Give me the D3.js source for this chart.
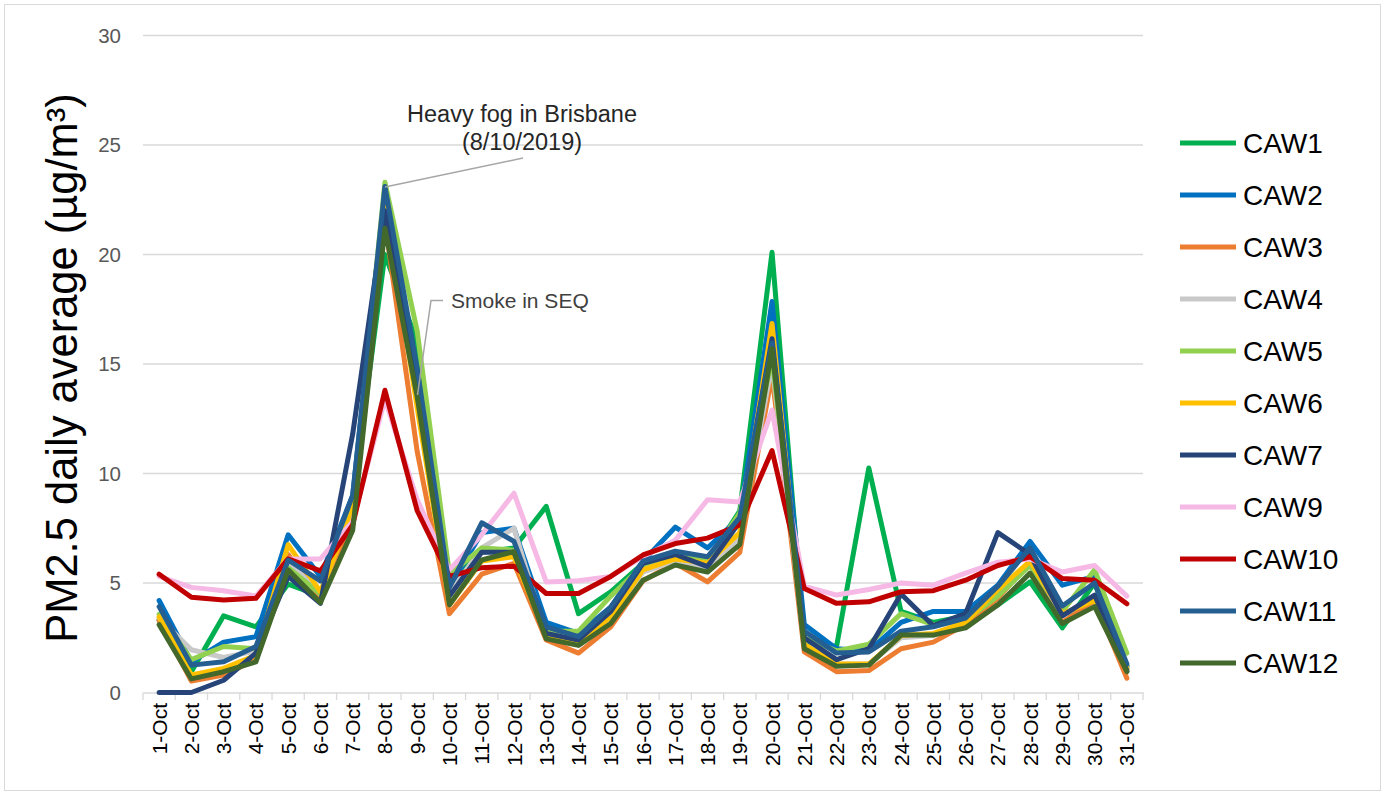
<!DOCTYPE html>
<html><head><meta charset="utf-8">
<script src="https://cdn.jsdelivr.net/npm/d3@7"></script>
<style>
html,body{margin:0;padding:0;background:#fff;}
svg{display:block;font-family:"Liberation Sans",Arial,sans-serif;}
</style></head>
<body>
<svg id="chart" width="1384" height="794"></svg>
<script>
const days = ["1-Oct","2-Oct","3-Oct","4-Oct","5-Oct","6-Oct","7-Oct","8-Oct","9-Oct","10-Oct","11-Oct","12-Oct","13-Oct","14-Oct","15-Oct","16-Oct","17-Oct","18-Oct","19-Oct","20-Oct","21-Oct","22-Oct","23-Oct","24-Oct","25-Oct","26-Oct","27-Oct","28-Oct","29-Oct","30-Oct","31-Oct"];
const yTicks = [0,5,10,15,20,25,30];
const seriesNames = ["CAW1","CAW2","CAW3","CAW4","CAW5","CAW6","CAW7","CAW9","CAW10","CAW11","CAW12"];
const seriesColors = ["#00B050","#0070C0","#ED7D31","#C9C9C9","#92D050","#FFC000","#264478","#F6B8E4","#C00000","#255E91","#43682B"];
const CAW1  = [3.3,0.95,3.5,3.0,4.95,4.4,8.8,20.0,16.0,5.2,6.4,6.6,8.5,3.6,4.6,5.9,6.2,6.0,8.3,20.1,2.3,2.1,10.25,3.7,3.2,3.5,4.0,5.05,2.95,5.0,1.2];
const CAW2  = [4.2,1.4,2.3,2.55,7.2,5.3,9.0,22.8,14.5,4.8,7.3,7.5,3.2,2.7,3.9,6.0,7.55,6.6,8.0,17.85,3.1,2.0,1.9,3.2,3.7,3.7,4.9,6.9,4.9,5.3,1.2];
const CAW3  = [3.3,0.52,0.8,1.5,6.3,4.3,8.0,21.5,11.0,3.6,5.4,5.9,2.4,1.8,3.0,5.1,5.9,5.05,6.4,14.5,1.85,0.95,1.0,2.0,2.3,3.1,4.3,6.0,3.2,4.2,0.65];
const CAW4  = [3.4,1.95,1.6,1.9,6.0,4.5,8.5,22.0,13.5,4.5,6.6,7.5,2.6,2.3,3.4,5.5,6.0,5.6,7.0,15.0,2.2,1.3,1.3,2.5,2.6,3.3,4.5,6.0,3.5,4.4,1.1];
const CAW5  = [3.57,1.5,2.1,2.0,5.7,4.5,8.7,23.3,16.5,5.4,6.6,6.5,2.8,2.8,4.4,5.8,6.3,6.0,8.2,15.3,2.5,1.9,2.2,3.6,3.1,3.3,4.4,5.8,3.7,5.6,1.8];
const CAW6  = [3.45,0.8,1.1,1.7,6.75,4.6,8.3,22.5,13.0,4.0,6.0,6.2,2.6,2.3,3.45,5.6,6.1,5.9,7.3,16.85,2.2,1.3,1.3,2.6,2.7,3.2,4.7,6.0,3.6,4.2,1.1];
const CAW7  = [0.0,0.0,0.56,1.8,5.3,4.07,11.8,22.0,14.0,4.4,6.4,6.4,2.7,2.4,3.7,5.9,6.3,5.75,7.8,16.15,2.5,1.5,2.0,4.5,3.05,3.6,7.3,6.3,3.5,4.45,1.0];
const CAW9  = [5.3,4.8,4.65,4.4,6.1,6.1,7.8,13.4,8.8,5.6,7.2,9.1,5.05,5.1,5.3,6.2,6.95,8.8,8.7,12.9,4.85,4.45,4.7,5.0,4.9,5.45,5.95,6.1,5.5,5.8,4.4];
const CAW10 = [5.4,4.35,4.22,4.3,6.1,5.55,7.65,13.8,8.3,5.3,5.7,5.77,4.52,4.52,5.3,6.28,6.8,7.05,7.65,11.05,4.75,4.07,4.14,4.6,4.65,5.13,5.8,6.2,5.2,5.13,4.05];
const CAW11 = [3.92,1.25,1.4,2.1,6.05,5.1,9.0,23.1,14.8,4.8,7.75,6.9,3.0,2.55,3.9,6.0,6.45,6.2,8.0,15.95,2.8,1.8,1.85,2.8,3.0,3.4,4.85,6.6,3.95,5.0,1.3];
const CAW12 = [3.1,0.62,0.95,1.4,5.6,4.1,7.4,21.2,13.5,4.0,6.05,6.43,2.45,2.15,3.15,5.13,5.82,5.5,6.75,15.7,2.0,1.2,1.25,2.62,2.62,2.95,4.0,5.45,3.15,3.92,0.95];
const seriesValues = [CAW1,CAW2,CAW3,CAW4,CAW5,CAW6,CAW7,CAW9,CAW10,CAW11,CAW12];

const svg = d3.select("#chart");
svg.append("rect").attr("x",4.5).attr("y",4.5).attr("width",1376).attr("height",786)
  .attr("fill","none").attr("stroke","#d9d9d9").attr("stroke-width",1);

const x = d3.scaleBand().domain(days).range([143,1143]).padding(0);
const y = d3.scaleLinear().domain([0,30]).range([692.5,35.5]);

svg.append("g").selectAll("line").data(yTicks.filter(d=>d>0)).join("line")
  .attr("x1",143).attr("x2",1143).attr("y1",d=>y(d)).attr("y2",d=>y(d))
  .attr("stroke","#d9d9d9").attr("stroke-width",1.3);

svg.append("g").selectAll("text").data(yTicks).join("text")
  .attr("x",121).attr("y",d=>y(d)).attr("dy","0.36em").attr("text-anchor","end")
  .attr("font-size",20.5).attr("fill","#595959").text(d=>d);

const xAxis = d3.axisBottom(x).tickSize(0).tickFormat("");
const gx = svg.append("g").attr("transform","translate(0,692.5)").call(xAxis);
gx.select(".domain").attr("stroke","#d9d9d9").attr("stroke-width",1.5);
const bounds = days.map(d=>x(d)).concat([x(days[days.length-1])+x.bandwidth()]);
svg.append("g").selectAll("line").data(bounds).join("line")
  .attr("x1",d=>d).attr("x2",d=>d).attr("y1",692.5).attr("y2",700)
  .attr("stroke","#d9d9d9").attr("stroke-width",1.3);
svg.append("g").selectAll("text").data(days).join("text")
  .attr("transform",d=>`translate(${x(d)+x.bandwidth()/2},703) rotate(-90)`)
  .attr("text-anchor","end").attr("dy","0.36em")
  .attr("font-size",21).attr("fill","#000").text(d=>d);

const line = d3.line().x((d,i)=>x(days[i])+x.bandwidth()/2).y(d=>y(d));
seriesValues.forEach((vals,k)=>{
  svg.append("path").datum(vals).attr("d",line)
    .attr("fill","none").attr("stroke",seriesColors[k]).attr("stroke-width",5)
    .attr("stroke-linejoin","round").attr("stroke-linecap","round");
});

svg.append("line").attr("x1",385).attr("y1",187).attr("x2",523).attr("y2",158)
  .attr("stroke","#a6a6a6").attr("stroke-width",1.5);
svg.append("text").attr("x",522).attr("y",121.5).attr("text-anchor","middle")
  .attr("font-size",23.5).attr("fill","#262626").text("Heavy fog in Brisbane");
svg.append("text").attr("x",522).attr("y",149.5).attr("text-anchor","middle")
  .attr("font-size",23.5).attr("fill","#262626").text("(8/10/2019)");
svg.append("polyline").attr("points","443,300.5 431,300.5 417.5,395")
  .attr("fill","none").attr("stroke","#a6a6a6").attr("stroke-width",1.5);
svg.append("text").attr("x",451).attr("y",308).attr("font-size",21)
  .attr("fill","#404040").text("Smoke in SEQ");

svg.append("text").attr("transform","translate(77,368) rotate(-90)")
  .attr("text-anchor","middle").attr("font-size",43.5).attr("fill","#000")
  .text("PM2.5 daily average (µg/m³)");

const lg = svg.append("g");
seriesNames.forEach((n,k)=>{
  const ly = 143 + k*52;
  lg.append("line").attr("x1",1180).attr("x2",1236).attr("y1",ly).attr("y2",ly)
    .attr("stroke",seriesColors[k]).attr("stroke-width",5);
  lg.append("text").attr("x",1243).attr("y",ly+10).attr("font-size",28)
    .attr("fill","#000").text(n);
});
</script>
</body></html>
